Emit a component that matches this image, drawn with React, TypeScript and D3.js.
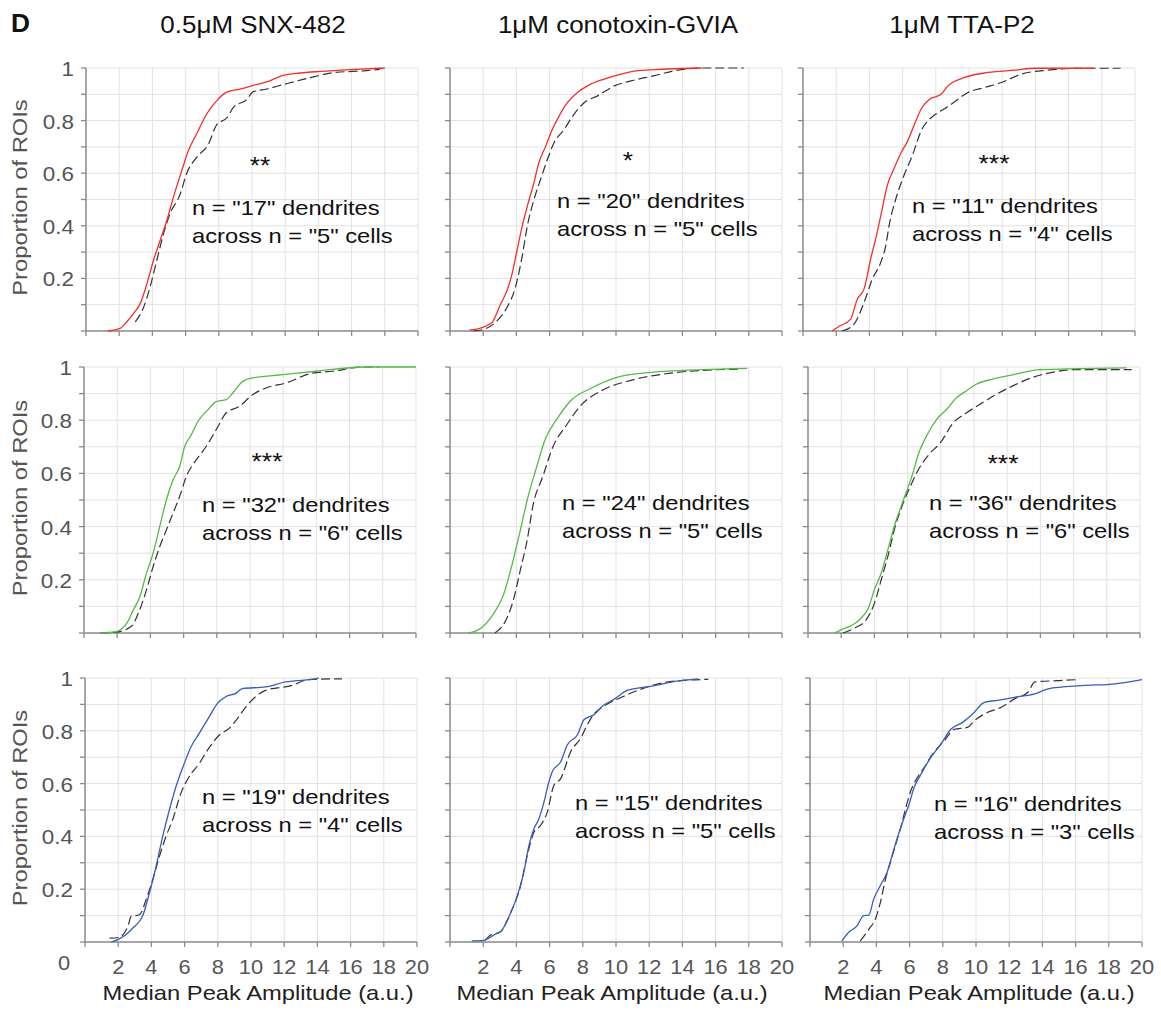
import * as d3 from "d3";

type Pt = [number, number];

const drugs = ["0.5μM SNX-482", "1μM conotoxin-GVIA", "1μM TTA-P2"];
const rowColors = ["#f0302c", "#58b848", "#3a5cbc"];
const nDendrites = [[17, 20, 11], [32, 24, 36], [19, 15, 16]];
const nCells = [[5, 5, 4], [6, 5, 6], [4, 5, 3]];
const stars = [["**", "*", "***"], ["***", "", "***"], ["", "", ""]];
const xTicks = [0, 2, 4, 6, 8, 10, 12, 14, 16, 18, 20];
const xTickLabels = [2, 4, 6, 8, 10, 12, 14, 16, 18, 20];
const yTicks = [0, 0.1, 0.2, 0.3, 0.4, 0.5, 0.6, 0.7, 0.8, 0.9, 1];
const yTickLabels = [0.2, 0.4, 0.6, 0.8, 1];

// row 1 (red)
const snxRed: Pt[] = [[1.3, 0], [2.06, 0.01], [2.46, 0.035], [2.87, 0.067], [3.27, 0.105], [3.67, 0.18], [4.07, 0.27], [4.47, 0.345], [4.87, 0.42], [5.27, 0.51], [5.77, 0.61], [6.17, 0.686], [6.67, 0.75], [7.27, 0.825], [7.88, 0.876], [8.48, 0.908], [9.28, 0.92], [10.08, 0.934], [10.88, 0.947], [11.88, 0.972], [12.9, 0.981], [14.1, 0.987], [15.9, 0.994], [18, 1]];
const snxRedCtrl: Pt[] = [[2.97, 0.035], [3.47, 0.09], [3.87, 0.17], [4.27, 0.27], [4.67, 0.37], [5.07, 0.447], [5.67, 0.52], [6.07, 0.6], [6.67, 0.66], [7.37, 0.71], [7.88, 0.785], [8.48, 0.81], [8.88, 0.85], [9.68, 0.88], [10.08, 0.91], [10.88, 0.92], [11.88, 0.937], [13.29, 0.96], [14.9, 0.982], [16.9, 0.99], [17.7, 0.995]];
const ctxRed: Pt[] = [[1.17, 0.003], [1.92, 0.013], [2.53, 0.032], [3.03, 0.1], [3.43, 0.153], [3.74, 0.217], [4.04, 0.307], [4.34, 0.396], [4.65, 0.473], [5.05, 0.562], [5.35, 0.639], [5.76, 0.702], [6.16, 0.766], [6.57, 0.817], [7.07, 0.868], [7.68, 0.907], [8.28, 0.932], [9.29, 0.958], [10.3, 0.977], [11.31, 0.99], [12.3, 0.994], [15.15, 1]];
const ctxRedCtrl: Pt[] = [[1.41, 0], [2.02, 0.006], [2.93, 0.045], [3.43, 0.089], [3.94, 0.166], [4.34, 0.281], [4.65, 0.396], [5.05, 0.498], [5.45, 0.575], [5.86, 0.651], [6.26, 0.715], [6.87, 0.766], [7.47, 0.824], [8.08, 0.868], [8.89, 0.894], [9.9, 0.932], [10.9, 0.951], [12.32, 0.971], [13.54, 0.99], [15.35, 1], [17.7, 1]];
const ttaRed: Pt[] = [[1.76, 0], [2.16, 0.017], [2.87, 0.045], [3.27, 0.121], [3.68, 0.16], [4.08, 0.275], [4.38, 0.351], [4.69, 0.44], [5.09, 0.556], [5.49, 0.619], [5.9, 0.677], [6.3, 0.722], [6.71, 0.785], [7.11, 0.843], [7.62, 0.881], [8.32, 0.9], [8.73, 0.932], [9.74, 0.964], [11.15, 0.983], [12.77, 0.992], [13.98, 0.999], [17.5, 0.999]];
const ttaRedCtrl: Pt[] = [[2.36, 0], [3.07, 0.026], [3.68, 0.109], [4.18, 0.198], [4.69, 0.262], [4.99, 0.326], [5.19, 0.402], [5.6, 0.504], [6.1, 0.594], [6.61, 0.671], [7.11, 0.76], [7.72, 0.811], [8.32, 0.837], [8.93, 0.862], [9.94, 0.907], [10.95, 0.926], [11.96, 0.945], [13.17, 0.977], [14.79, 0.992], [16.81, 0.999], [19.13, 0.999]];

// row 2 (green)
const snxGreen: Pt[] = [[0.96, 0], [1.86, 0.004], [2.56, 0.035], [2.96, 0.085], [3.36, 0.136], [3.76, 0.224], [4.16, 0.299], [4.56, 0.4], [4.96, 0.5], [5.36, 0.575], [5.76, 0.626], [6.06, 0.7], [6.46, 0.745], [6.86, 0.795], [7.46, 0.839], [7.96, 0.87], [8.56, 0.877], [8.96, 0.902], [9.56, 0.946], [10.16, 0.959], [11.96, 0.971], [13.96, 0.984], [16.96, 1], [20, 1]];
const snxGreenCtrl: Pt[] = [[0.96, 0], [1.9, 0.003], [2.86, 0.025], [3.26, 0.073], [3.76, 0.161], [4.16, 0.249], [4.56, 0.324], [4.96, 0.387], [5.36, 0.45], [5.76, 0.513], [6.16, 0.588], [6.76, 0.651], [7.36, 0.701], [7.96, 0.764], [8.56, 0.827], [9.36, 0.852], [10.16, 0.896], [10.96, 0.921], [12.16, 0.94], [13.76, 0.977], [14.96, 0.984], [16.76, 1], [17.76, 1]];
const ctxGreen: Pt[] = [[1.1, 0], [1.9, 0.02], [2.6, 0.07], [3.2, 0.14], [3.75, 0.26], [4.25, 0.39], [4.65, 0.5], [5.15, 0.61], [5.75, 0.73], [6.5, 0.81], [7.3, 0.875], [8.5, 0.92], [10, 0.96], [12.1, 0.98], [15.2, 0.99], [17.9, 0.995]];
const ctxGreenCtrl: Pt[] = [[2.7, 0], [3.3, 0.04], [3.8, 0.12], [4.25, 0.24], [4.65, 0.35], [5, 0.48], [5.6, 0.59], [6.2, 0.7], [7, 0.78], [7.9, 0.857], [9.1, 0.91], [10.9, 0.95], [13.3, 0.977], [15.8, 0.989], [17.6, 0.992]];
const ttaGreen: Pt[] = [[1.61, 0], [2.01, 0.013], [2.62, 0.028], [3.12, 0.051], [3.62, 0.092], [4.02, 0.166], [4.43, 0.229], [4.83, 0.318], [5.23, 0.408], [5.73, 0.497], [6.24, 0.586], [6.74, 0.688], [7.24, 0.752], [7.75, 0.803], [8.35, 0.841], [8.96, 0.885], [9.56, 0.911], [10.16, 0.936], [11.17, 0.955], [12.37, 0.971], [13.98, 0.99], [16.4, 0.994], [19.2, 0.997]];
const ttaGreenCtrl: Pt[] = [[2.11, 0], [2.82, 0.019], [3.52, 0.051], [4.02, 0.115], [4.43, 0.204], [4.83, 0.293], [5.23, 0.395], [5.63, 0.471], [6.14, 0.548], [6.74, 0.624], [7.34, 0.675], [7.95, 0.713], [8.75, 0.79], [9.56, 0.828], [10.36, 0.86], [11.37, 0.898], [12.37, 0.93], [13.58, 0.962], [14.79, 0.981], [15.99, 0.99], [19.5, 0.99]];

// row 3 (blue)
const snxBlue: Pt[] = [[1.58, 0], [1.98, 0.009], [2.48, 0.028], [2.88, 0.053], [3.48, 0.1], [3.88, 0.185], [4.28, 0.286], [4.68, 0.4], [5.08, 0.5], [5.48, 0.588], [5.98, 0.676], [6.38, 0.739], [6.88, 0.79], [7.48, 0.853], [7.98, 0.904], [8.48, 0.929], [9.08, 0.942], [9.48, 0.96], [10.88, 0.966], [12.08, 0.985], [13.48, 0.994], [14.08, 1]];
const snxBlueCtrl: Pt[] = [[1.48, 0.015], [1.98, 0.016], [2.58, 0.059], [2.78, 0.097], [3.28, 0.103], [3.68, 0.16], [4.08, 0.236], [4.48, 0.324], [4.88, 0.4], [5.28, 0.463], [5.78, 0.564], [6.28, 0.627], [6.88, 0.676], [7.38, 0.727], [8.08, 0.783], [8.68, 0.809], [9.18, 0.846], [9.68, 0.89], [10.28, 0.929], [10.88, 0.953], [12.48, 0.972], [13.48, 0.994], [15.48, 0.997]];
const ctxBlue: Pt[] = [[1.31, 0.004], [2.02, 0.006], [2.63, 0.026], [3.13, 0.045], [3.64, 0.109], [4.04, 0.172], [4.44, 0.262], [4.75, 0.364], [5.05, 0.428], [5.35, 0.466], [5.66, 0.53], [5.96, 0.607], [6.16, 0.645], [6.67, 0.683], [7.07, 0.747], [7.68, 0.785], [8.08, 0.843], [8.69, 0.862], [9.19, 0.894], [9.9, 0.92], [10.71, 0.954], [12.32, 0.971], [13.54, 0.987], [14.95, 0.997]];
const ctxBlueCtrl: Pt[] = [[2.12, 0.006], [2.42, 0.026], [3.03, 0.038], [3.64, 0.109], [4.24, 0.211], [4.65, 0.326], [5.05, 0.415], [5.45, 0.441], [5.86, 0.492], [6.26, 0.594], [6.67, 0.619], [7.27, 0.721], [7.88, 0.773], [8.28, 0.824], [8.69, 0.865], [9.29, 0.894], [10.3, 0.926], [11.52, 0.958], [12.93, 0.983], [14.34, 0.992], [15.56, 0.995]];
const ttaBlue: Pt[] = [[1.92, 0.004], [2.32, 0.036], [2.83, 0.061], [3.23, 0.1], [3.54, 0.102], [3.84, 0.163], [4.24, 0.214], [4.65, 0.265], [4.95, 0.329], [5.25, 0.392], [5.66, 0.469], [5.96, 0.52], [6.26, 0.583], [6.67, 0.634], [7.27, 0.698], [7.88, 0.749], [8.48, 0.806], [9.19, 0.832], [9.8, 0.864], [10.51, 0.908], [11.31, 0.915], [12.32, 0.927], [13.54, 0.94], [14.34, 0.959], [16.36, 0.971], [18.38, 0.978], [20, 0.994]];
const ttaBlueCtrl: Pt[] = [[3.03, 0.004], [3.54, 0.048], [3.94, 0.087], [4.24, 0.15], [4.55, 0.239], [4.85, 0.303], [5.15, 0.367], [5.45, 0.43], [5.76, 0.506], [6.06, 0.571], [6.46, 0.622], [6.87, 0.66], [7.37, 0.711], [8.08, 0.762], [8.69, 0.806], [9.49, 0.813], [9.9, 0.838], [10.71, 0.87], [11.52, 0.889], [12.32, 0.921], [13.13, 0.946], [13.54, 0.985], [14.95, 0.99], [16.16, 0.994]];

const treated = [[snxRed, ctxRed, ttaRed], [snxGreen, ctxGreen, ttaGreen], [snxBlue, ctxBlue, ttaBlue]];
const control = [[snxRedCtrl, ctxRedCtrl, ttaRedCtrl], [snxGreenCtrl, ctxGreenCtrl, ttaGreenCtrl], [snxBlueCtrl, ctxBlueCtrl, ttaBlueCtrl]];

// layout (pixels)
const rowTop = [68, 367, 678];
const rowBottom = [331, 633, 942];
const colLeft = [[86, 450, 803], [84, 450, 808], [85, 450, 810]];
const plotW = 332;
const titleX = [253, 618, 962];
const xTitleX = [258, 612, 979];
const starPos = [[[260, 174], [628, 169], [994, 172]], [[267, 470], [0, 0], [1003, 472]], [[0, 0], [0, 0], [0, 0]]];
const notePos = [[[192, 215], [557, 208], [912, 213]], [[202, 512], [562, 510], [929, 510]], [[202, 804], [575, 810], [934, 811]]];

const FONT = "'Liberation Sans', Arial, Helvetica, sans-serif";
const SX = 1.13;

function SText(props: { x: number; y: number; size: number; anchor?: string; fill?: string; weight?: string; rotate?: number; sx?: number; children: any }) {
  const { x, y, size, anchor = "start", fill = "#111", weight = "normal", rotate, sx = SX, children } = props;
  const tr = `translate(${x},${y})${rotate ? ` rotate(${rotate})` : ""} scale(${sx},1)`;
  return (
    <text transform={tr} fontSize={size} textAnchor={anchor} fill={fill} fontWeight={weight} fontFamily={FONT}>
      {children}
    </text>
  );
}

function Panel({ r, c }: { r: number; c: number }) {
  const left = colLeft[r][c];
  const x = d3.scaleLinear().domain([0, 20]).range([left, left + plotW]);
  const y = d3.scaleLinear().domain([0, 1]).range([rowBottom[r], rowTop[r]]);
  const line = d3
    .line<Pt>()
    .x((d) => x(d[0]))
    .y((d) => y(d[1]))
    .curve(d3.curveMonotoneX);
  const axisCol = "#8a8a8a";
  const gridCol = "#e2e2e2";
  return (
    <g>
      {xTicks.slice(1).map((t) => (
        <line key={"gx" + t} x1={x(t)} x2={x(t)} y1={y(0)} y2={y(1)} stroke={gridCol} strokeWidth={1} />
      ))}
      {yTicks.slice(1).map((t) => (
        <line key={"gy" + t} x1={x(0)} x2={x(20)} y1={y(t)} y2={y(t)} stroke={gridCol} strokeWidth={1} />
      ))}
      <line x1={x(0)} x2={x(0)} y1={y(0)} y2={y(1)} stroke={axisCol} strokeWidth={1.5} />
      <line x1={x(0)} x2={x(20)} y1={y(0)} y2={y(0)} stroke={axisCol} strokeWidth={1.5} />
      {yTicks.map((t) => (
        <line key={"ty" + t} x1={x(0) - 5} x2={x(0)} y1={y(t)} y2={y(t)} stroke={axisCol} strokeWidth={1.3} />
      ))}
      {xTicks.map((t) => (
        <line key={"tx" + t} x1={x(t)} x2={x(t)} y1={y(0)} y2={y(0) + 5} stroke={axisCol} strokeWidth={1.3} />
      ))}
      <path d={line(control[r][c]) || ""} fill="none" stroke="#333" strokeWidth={1.2} strokeDasharray="9,4" />
      <path d={line(treated[r][c]) || ""} fill="none" stroke={rowColors[r]} strokeWidth={1.3} />
      {c === 0 &&
        yTickLabels.map((t) => (
          <SText key={"ly" + t} x={x(0) - 12} y={y(t) + 8} size={21} anchor="end" fill="#555" sx={1.07}>
            {t}
          </SText>
        ))}
      {r === 2 &&
        xTickLabels.map((t) => (
          <SText key={"lx" + t} x={x(t)} y={974} size={21} anchor="middle" fill="#555" sx={1.04}>
            {t}
          </SText>
        ))}
      {stars[r][c] && (
        <SText x={starPos[r][c][0]} y={starPos[r][c][1]} size={24} anchor="middle" sx={1.1}>
          {stars[r][c]}
        </SText>
      )}
      <SText x={notePos[r][c][0]} y={notePos[r][c][1]} size={21}>
        {`n = "${nDendrites[r][c]}" dendrites`}
      </SText>
      <SText x={notePos[r][c][0]} y={notePos[r][c][1] + 28} size={21}>
        {`across n = "${nCells[r][c]}" cells`}
      </SText>
    </g>
  );
}

export default function App() {
  return (
    <svg width={1161} height={1019} style={{ position: "absolute", left: 0, top: 0, display: "block", background: "#fff" }}>
      <rect width={1161} height={1019} fill="#fff" />
      <SText x={11} y={32} size={25} weight="bold" sx={1.05}>
        D
      </SText>
      {drugs.map((d, i) => (
        <SText key={d} x={titleX[i]} y={33} size={23} anchor="middle">
          {d}
        </SText>
      ))}
      {[0, 1, 2].map((r) => (
        <g key={"row" + r}>
          {[0, 1, 2].map((c) => (
            <Panel key={c} r={r} c={c} />
          ))}
          <SText x={27} y={(rowTop[r] + rowBottom[r]) / 2 - 2} size={21} anchor="middle" fill="#555" rotate={-90}>
            Proportion of ROIs
          </SText>
        </g>
      ))}
      <SText x={64} y={970} size={21} anchor="middle" fill="#555" sx={1.04}>
        0
      </SText>
      {xTitleX.map((cx, i) => (
        <SText key={"xt" + i} x={cx} y={1000} size={21} anchor="middle" fill="#222">
          Median Peak Amplitude (a.u.)
        </SText>
      ))}
    </svg>
  );
}
